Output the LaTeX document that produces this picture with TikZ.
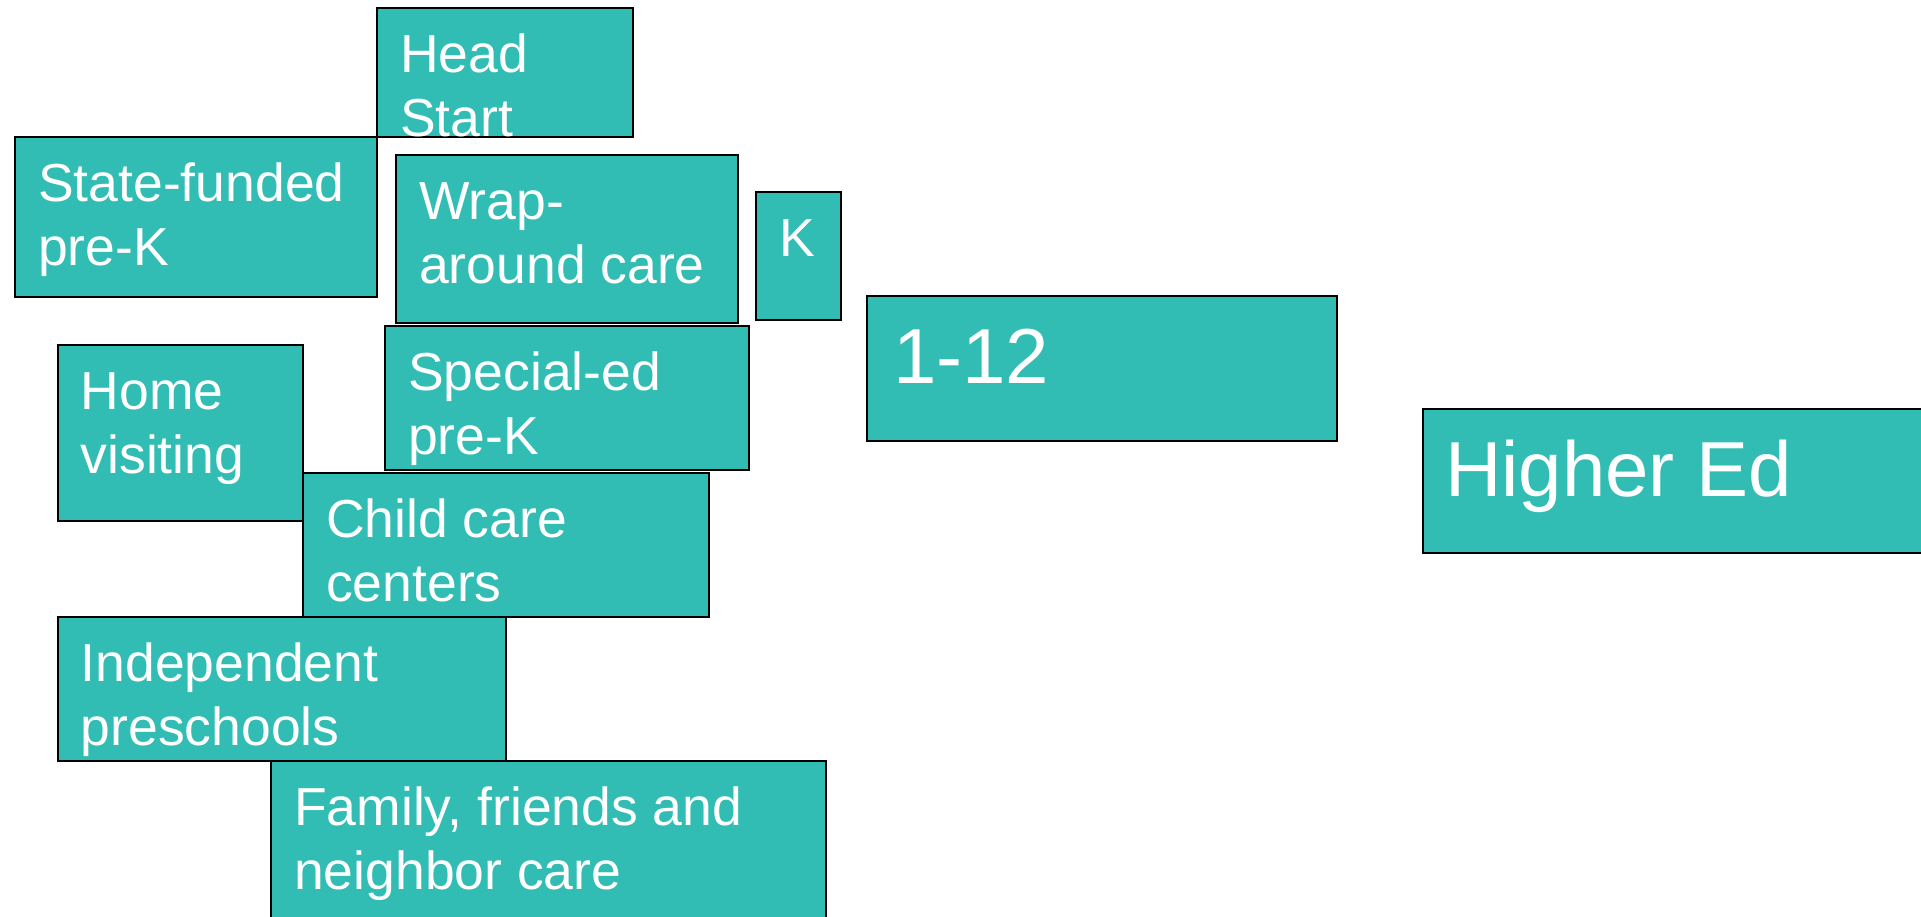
\documentclass[tikz,border=0pt]{standalone}
\usepackage{fontspec}
\setmainfont{Liberation Sans}
\definecolor{boxteal}{RGB}{49,189,179}
\newcommand{\tp}{\rule{0pt}{0.75em}}
\tikzset{
  blk/.style={draw=black, fill=boxteal, line width=2.2pt, anchor=north west, inner sep=0pt},
  lbl/.style={anchor=north west, inner sep=0pt, text=white, align=left, font=\fontsize{53.5}{64}\selectfont},
  biglbl/.style={lbl, font=\fontsize{78}{90}\selectfont}
}
\begin{document}
\begin{tikzpicture}[x=1pt, y=-1pt]
\useasboundingbox (0,0) rectangle (1921,917);
\clip (0,0) rectangle (1921,917);
\fill[white] (0,0) rectangle (1921,917);
% boxes
\node[blk, minimum width=256pt, minimum height=129pt] (headstart) at (376,7) {};
\node[blk, minimum width=362pt, minimum height=160pt] (statepk) at (14,136) {};
\node[blk, minimum width=342pt, minimum height=168pt] (wrap) at (395,154) {};
\node[blk, minimum width=85pt, minimum height=128pt] (kbox) at (755,191) {};
\node[blk, minimum width=364pt, minimum height=144pt] (sped) at (384,325) {};
\node[blk, minimum width=245.5pt, minimum height=176pt] (home) at (56.5,344) {};
\node[blk, minimum width=406pt, minimum height=144pt] (child) at (302,472) {};
\node[blk, minimum width=448.5pt, minimum height=144pt] (indep) at (56.5,616) {};
\node[blk, minimum width=554.5pt, minimum height=200pt] (family) at (270,760) {};
\node[blk, minimum width=470pt, minimum height=145pt] (grades) at (866,295) {};
\node[blk, minimum width=540pt, minimum height=144pt] (higher) at (1422,408) {};
% labels
\node[lbl] (headstartT) at ([shift={(24,25)}]headstart.north west) {\tp Head\\Start};
\node[lbl] (statepkT) at ([shift={(24,25)}]statepk.north west) {\tp State-funded\\pre-K};
\node[lbl] (wrapT) at ([shift={(24,25)}]wrap.north west) {\tp Wrap-\\around care};
\node[lbl] (kboxT) at ([shift={(24,25)}]kbox.north west) {\tp K};
\node[lbl] (spedT) at ([shift={(24,25)}]sped.north west) {\tp Special-ed\\pre-K};
\node[lbl] (homeT) at ([shift={(24,25)}]home.north west) {\tp Home\\visiting};
\node[lbl] (childT) at ([shift={(24,25)}]child.north west) {\tp Child care\\centers};
\node[lbl] (indepT) at ([shift={(24,25)}]indep.north west) {\tp Independent\\preschools};
\node[lbl] (familyT) at ([shift={(24,25)}]family.north west) {\tp Family, friends and\\neighbor care};
\node[biglbl] (gradesT) at ([shift={(27,30)}]grades.north west) {\tp 1-12};
\node[biglbl] (higherT) at ([shift={(23,30)}]higher.north west) {\tp Higher Ed};
\end{tikzpicture}
\end{document}
